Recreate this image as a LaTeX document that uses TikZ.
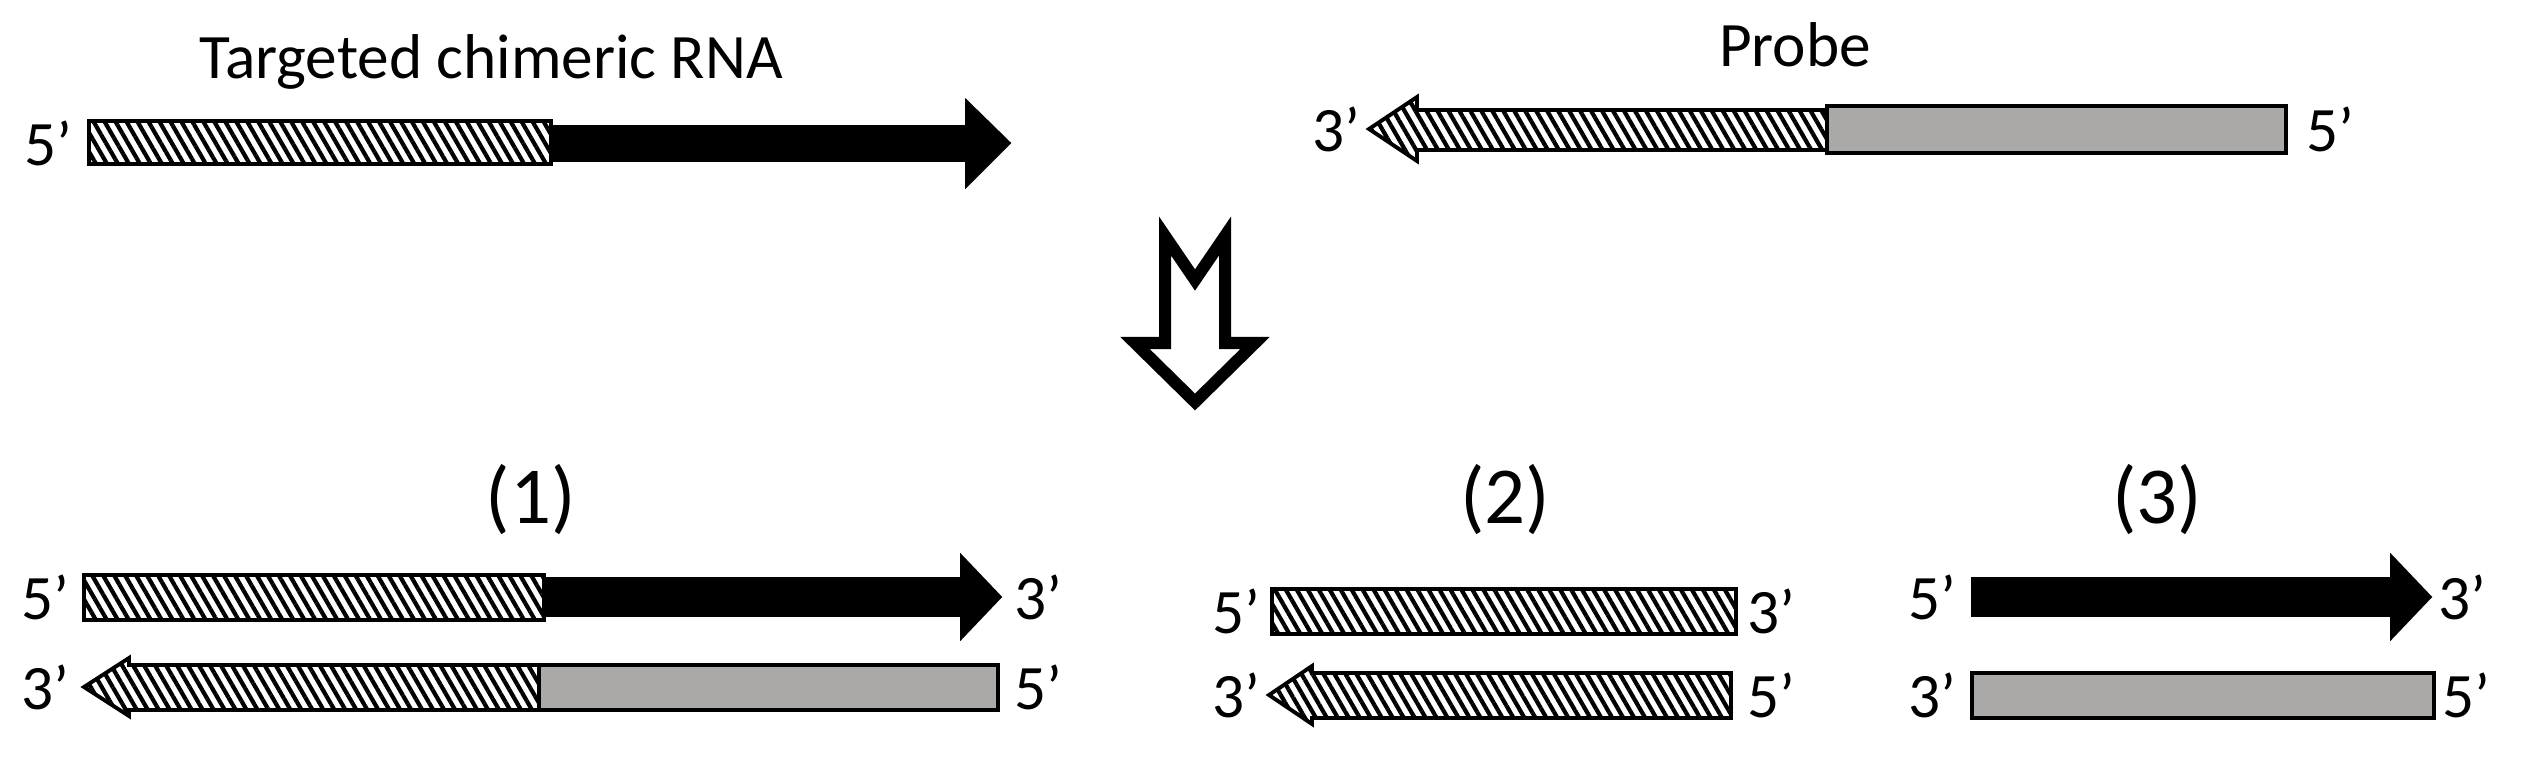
\documentclass[tikz,border=0pt]{standalone}
\usepackage{fontspec}
\setmainfont{Carlito}
\usetikzlibrary{patterns.meta}
\definecolor{probegray}{HTML}{ABA8A8}

\begin{document}
\begin{tikzpicture}[x=0.01cm, y=-0.01cm,
    hatch/.style={draw=black, line width=1.1pt, fill=white, postaction={pattern={Lines[angle=-60, distance=0.95mm, line width=0.42mm]}, pattern color=black}},
    graybar/.style={draw=black, line width=1.1pt, fill=probegray},
    solid/.style={draw=black, fill=black, line width=0.5pt},
    lbl/.style={font=\fontsize{18}{20}\selectfont, inner sep=0pt},
    num/.style={font=\fontsize{23}{26}\selectfont, inner sep=0pt}
]
\useasboundingbox (0,0) rectangle (2525,758);

% top: targeted chimeric RNA
\node[lbl] (title) at (491,62) {Targeted chimeric RNA};
\draw[hatch] (89,121) rectangle (551,164);
\draw[solid] (551,126) -- (966,126) -- (966,100) -- (1010,143) -- (966,187) -- (966,161) -- (551,161) -- cycle;
\node[lbl] (t5) at (48,143) {5’};

% top: probe
\node[lbl] (probe) at (1795,45) {Probe};
\draw[hatch] (1827,110) -- (1417,110) -- (1417,97) -- (1369,129) -- (1417,161) -- (1417,150) -- (1827,150) -- cycle;
\draw[graybar] (1827,106) rectangle (2286,153);
\node[lbl] (p3) at (1336,129) {3’};
\node[lbl] (p5) at (2330,129) {5’};

% hollow down arrow
\draw[line width=1.2mm, fill=white] (1165,236) -- (1195,280) -- (1225,236) -- (1225,343) -- (1255,343) -- (1195,402) -- (1135,343) -- (1165,343) -- cycle;

% (1)
\node[num] (n1) at (531,500) {(1)};
\draw[hatch] (84,575) rectangle (544,620);
\draw[solid] (544,578) -- (961,578) -- (961,555) -- (1001,597) -- (961,639) -- (961,616) -- (544,616) -- cycle;
\node[lbl] (a5) at (45,597) {5’};
\node[lbl] (a3) at (1038,597) {3’};
\draw[hatch] (539,665) -- (129,665) -- (129,658) -- (84,687) -- (129,716) -- (129,710) -- (539,710) -- cycle;
\draw[graybar] (539,665) rectangle (998,710);
\node[lbl] (b3) at (45,687) {3’};
\node[lbl] (b5) at (1038,687) {5’};

% (2)
\node[num] (n2) at (1505,500) {(2)};
\draw[hatch] (1272,589) rectangle (1736,634);
\node[lbl] (c5) at (1236,611) {5’};
\node[lbl] (c3) at (1771,611) {3’};
\draw[hatch] (1731,673) -- (1312,673) -- (1312,666) -- (1269,695) -- (1312,724) -- (1312,718) -- (1731,718) -- cycle;
\node[lbl] (d3) at (1236,695) {3’};
\node[lbl] (d5) at (1771,695) {5’};

% (3)
\node[num] (n3) at (2157,500) {(3)};
\draw[solid] (1972,578) -- (2391,578) -- (2391,555) -- (2431,597) -- (2391,639) -- (2391,616) -- (1972,616) -- cycle;
\node[lbl] (e5) at (1932,597) {5’};
\node[lbl] (e3) at (2462,597) {3’};
\draw[graybar] (1972,673) rectangle (2434,718);
\node[lbl] (f3) at (1932,695) {3’};
\node[lbl] (f5) at (2466,695) {5’};

\end{tikzpicture}
\end{document}
